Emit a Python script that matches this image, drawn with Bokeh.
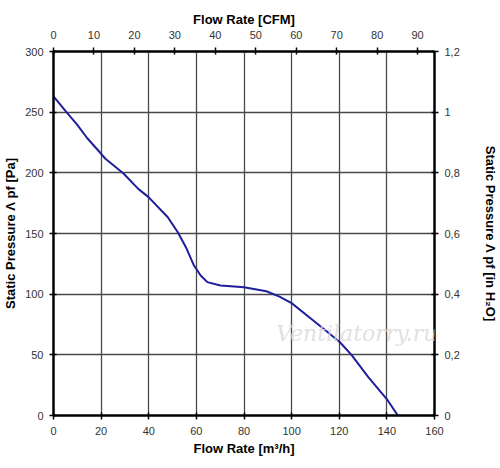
from bokeh.plotting import figure
from bokeh.models import Range1d, LinearAxis, FixedTicker, CustomJSTickFormatter, Label
from bokeh.embed import file_html
from bokeh.resources import INLINE

# Flow rate [m3/h] and static pressure [Pa]
flow_m3h = [0, 5, 10, 14.2, 20, 21.8, 29.4, 35.6, 39.9, 48, 52.2, 55.6, 59, 61.8,
            63.2, 64.6, 70.1, 80, 89.4, 94.9, 100, 107.4, 114.3, 120.3, 125.3, 132.2,
            140.4, 144.6]
pressure_pa = [263, 251, 239.5, 228.5, 215.7, 211.6, 199.5, 186.8, 180, 163.4, 151, 138.7,
               123.6, 115.4, 112.7, 109.9, 107.1, 105.7, 102.4, 98, 92.6, 81, 70, 60.4,
               49.5, 31.6, 12.4, 0]

bottom_ticks = [0, 20, 40, 60, 80, 100, 120, 140, 160]
left_ticks = [0, 50, 100, 150, 200, 250, 300]
top_ticks = [0, 10, 20, 30, 40, 50, 60, 70, 80, 90]
right_ticks = [0, 0.2, 0.4, 0.6, 0.8, 1.0, 1.2]
cfm_max = 94.17
inh2o_max = 1.2

FONT = "Liberation Sans"

p = figure(width=500, height=468, output_backend="svg", toolbar_location=None,
           x_range=Range1d(0, 160), y_range=Range1d(0, 300),
           min_border_left=50, min_border_right=62, min_border_top=51, min_border_bottom=53)
bottom_axis = p.below[0]
left_axis = p.left[0]

p.extra_x_ranges = {"cfm": Range1d(0, cfm_max)}
p.extra_y_ranges = {"inh2o": Range1d(0, inh2o_max)}

p.background_fill_color = "white"
p.border_fill_color = "white"
p.outline_line_color = "black"
p.outline_line_width = 2

p.xgrid.ticker = FixedTicker(ticks=bottom_ticks)
p.ygrid.ticker = FixedTicker(ticks=left_ticks)
for g in (p.xgrid[0], p.ygrid[0]):
    g.grid_line_color = "#4a4a4a"
    g.grid_line_width = 1.3

top_axis = LinearAxis(x_range_name="cfm", ticker=FixedTicker(ticks=top_ticks))
right_axis = LinearAxis(y_range_name="inh2o", ticker=FixedTicker(ticks=right_ticks),
                        formatter=CustomJSTickFormatter(code="""
    if (Math.abs(tick - Math.round(tick)) < 1e-9) return Math.round(tick).toString();
    return tick.toFixed(1).replace('.', ',');
"""))
p.add_layout(top_axis, "above")
p.add_layout(right_axis, "right")

bottom_axis.ticker = FixedTicker(ticks=bottom_ticks)
left_axis.ticker = FixedTicker(ticks=left_ticks)

bottom_axis.axis_label = "Flow Rate [m³/h]"
top_axis.axis_label = "Flow Rate [CFM]"
left_axis.axis_label = "Static Pressure Λ pf [Pa]"
right_axis.axis_label = "Static Pressure Λ pf [in H₂O]"

for ax in (bottom_axis, left_axis, top_axis, right_axis):
    ax.axis_line_color = "black"
    ax.axis_line_width = 2
    ax.major_tick_line_color = "black"
    ax.major_tick_line_width = 1.5
    ax.major_tick_out = 4
    ax.major_tick_in = 3
    ax.minor_tick_line_color = None
    ax.major_label_text_font = FONT
    ax.major_label_text_font_size = "11px"
    ax.major_label_text_color = "#333333"
    ax.axis_label_text_font = FONT
    ax.axis_label_text_font_size = "13px"
    ax.axis_label_text_font_style = "bold"
    ax.axis_label_text_color = "black"

top_axis.major_label_standoff = 9
top_axis.axis_label_standoff = 1
bottom_axis.major_label_standoff = 7
bottom_axis.axis_label_standoff = 3
left_axis.major_label_standoff = 6
left_axis.axis_label_standoff = 4
right_axis.major_label_standoff = 6
right_axis.axis_label_standoff = 20

p.line(flow_m3h, pressure_pa, line_color="#1f1f9e", line_width=2)

wm = Label(x=93.5, y=57, text="Ventilatorry.ru", text_font="DejaVu Serif",
           text_font_style="italic", text_font_size="22px", text_color="#d8d8d8",
           text_alpha=0.8)
p.add_layout(wm)

open("out.html", "w").write(file_html(p, INLINE))
